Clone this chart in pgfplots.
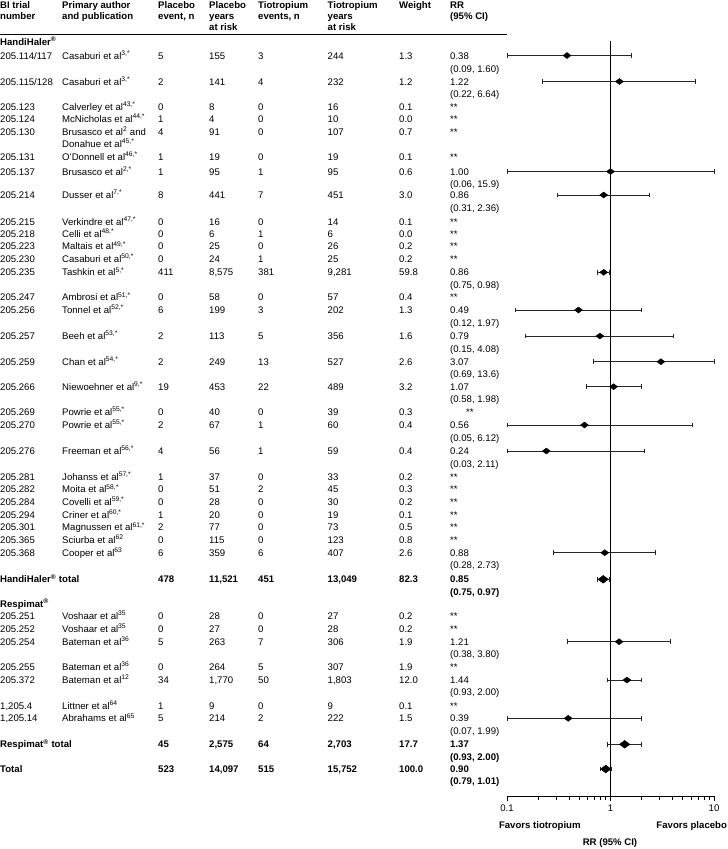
\documentclass[border=0pt]{standalone}
\usepackage{fontspec}
\setmainfont{Liberation Sans}
\usepackage{pgfplots}
\pgfplotsset{compat=1.18}
\newcommand{\fs}{\fontsize{9.6}{11}\selectfont}
\newcommand{\R}[9]{%
\node[T] at (0,#1) {#2};
\node[T] at (62,#1) {#3};
\node[T] at (158,#1) {#4};
\node[T] at (209,#1) {#5};
\node[T] at (258,#1) {#6};
\node[T] at (327.5,#1) {#7};
\node[T] at (399,#1) {#8};
\node[T] at (450,#1) {#9};}
\newcommand{\CI}[2]{\node[T] at (450,#1) {#2};}
\newcommand{\sps}[1]{\textsuperscript{#1}}
\newcommand{\ciline}[3]{\addplot[black!85, line width=0.8pt, mark=|, mark size=2.4pt, mark options={solid, line width=0.8pt}] coordinates {(#1,#3) (#2,#3)};}
\begin{document}
\begin{tikzpicture}
\begin{scope}[x=1pt,y=-1pt, T/.style={anchor=base west, inner sep=0pt, yshift=-3.5pt, font=\fs}]
\path[use as bounding box] (0,0) rectangle (728,849);
% header
\begin{scope}[T/.append style={font=\fs\bfseries}]
\node[T] at (0,5) {BI trial};
\node[T] at (0,16) {number};
\node[T] at (62,5) {Primary author};
\node[T] at (62,16) {and publication};
\node[T] at (158,5) {Placebo};
\node[T] at (158,16) {event, n};
\node[T] at (209,5) {Placebo};
\node[T] at (209,16) {years};
\node[T] at (209,27) {at risk};
\node[T] at (258,5) {Tiotropium};
\node[T] at (258,16) {events, n};
\node[T] at (327.5,5) {Tiotropium};
\node[T] at (327.5,16) {years};
\node[T] at (327.5,27) {at risk};
\node[T] at (399,5) {Weight};
\node[T] at (450,5) {RR};
\node[T] at (450,16) {(95\% CI)};
\node[T] at (0,42) {HandiHaler\sps{®}};
\node[T] at (0,604) {Respimat\sps{®}};
\end{scope}
\draw[line width=0.8pt] (0,34) -- (507,34);
\R{55.5}{205.114/117}{Casaburi et al\sps{3,*}}{5}{155}{3}{244}{1.3}{0.38}
\CI{68.5}{(0.09, 1.60)}
\R{81.5}{205.115/128}{Casaburi et al\sps{3,*}}{2}{141}{4}{232}{1.2}{1.22}
\CI{94}{(0.22, 6.64)}
\R{106.7}{205.123}{Calverley et al\sps{43,*}}{0}{8}{0}{16}{0.1}{**}
\R{118.7}{205.124}{McNicholas et al\sps{44,*}}{1}{4}{0}{10}{0.0}{**}
\R{131.5}{205.130}{Brusasco et al\sps{2} and}{4}{91}{0}{107}{0.7}{**}
\node[T] at (62,143.7) {Donahue et al\sps{45,*}};
\R{156.7}{205.131}{O'Donnell et al\sps{46,*}}{1}{19}{0}{19}{0.1}{**}
\R{171.5}{205.137}{Brusasco et al\sps{2,*}}{1}{95}{1}{95}{0.6}{1.00}
\CI{184}{(0.06, 15.9)}
\R{195}{205.214}{Dusser et al\sps{7,*}}{8}{441}{7}{451}{3.0}{0.86}
\CI{207.5}{(0.31, 2.36)}
\R{221.7}{205.215}{Verkindre et al\sps{47,*}}{0}{16}{0}{14}{0.1}{**}
\R{234}{205.218}{Celli et al\sps{48,*}}{0}{6}{1}{6}{0.0}{**}
\R{246.3}{205.223}{Maltais et al\sps{49,*}}{0}{25}{0}{26}{0.2}{**}
\R{259}{205.230}{Casaburi et al\sps{50,*}}{0}{24}{1}{25}{0.2}{**}
\R{272.3}{205.235}{Tashkin et al\sps{5,*}}{411}{8,575}{381}{9,281}{59.8}{0.86}
\CI{284.5}{(0.75, 0.98)}
\R{297.3}{205.247}{Ambrosi et al\sps{51,*}}{0}{58}{0}{57}{0.4}{**}
\R{310}{205.256}{Tonnel et al\sps{52,*}}{6}{199}{3}{202}{1.3}{0.49}
\CI{322.5}{(0.12, 1.97)}
\R{336}{205.257}{Beeh et al\sps{53,*}}{2}{113}{5}{356}{1.6}{0.79}
\CI{348.5}{(0.15, 4.08)}
\R{361.7}{205.259}{Chan et al\sps{54,*}}{2}{249}{13}{527}{2.6}{3.07}
\CI{373.7}{(0.69, 13.6)}
\R{386.7}{205.266}{Niewoehner et al\sps{9,*}}{19}{453}{22}{489}{3.2}{1.07}
\CI{399}{(0.58, 1.98)}
\R{412}{205.269}{Powrie et al\sps{55,*}}{0}{40}{0}{39}{0.3}{}
\node[T] at (466,412) {**};
\R{425}{205.270}{Powrie et al\sps{55,*}}{2}{67}{1}{60}{0.4}{0.56}
\CI{437.5}{(0.05, 6.12)}
\R{451}{205.276}{Freeman et al\sps{56,*}}{4}{56}{1}{59}{0.4}{0.24}
\CI{463.5}{(0.03, 2.11)}
\R{476.7}{205.281}{Johanss et al\sps{57,*}}{1}{37}{0}{33}{0.2}{**}
\R{489.3}{205.282}{Moita et al\sps{58,*}}{0}{51}{2}{45}{0.3}{**}
\R{501.7}{205.284}{Covelli et al\sps{59,*}}{0}{28}{0}{30}{0.2}{**}
\R{515}{205.294}{Criner et al\sps{60,*}}{1}{20}{0}{19}{0.1}{**}
\R{527.3}{205.301}{Magnussen et al\sps{61,*}}{2}{77}{0}{73}{0.5}{**}
\R{540}{205.365}{Sciurba et al\sps{62}}{0}{115}{0}{123}{0.8}{**}
\R{552.7}{205.368}{Cooper et al\sps{63}}{6}{359}{6}{407}{2.6}{0.88}
\CI{565}{(0.28, 2.73)}
\begin{scope}[T/.append style={font=\fs\bfseries}]
\R{579.3}{HandiHaler\sps{®} total}{}{478}{11,521}{451}{13,049}{82.3}{0.85}
\CI{591.7}{(0.75, 0.97)}
\end{scope}
\R{616}{205.251}{Voshaar et al\sps{35}}{0}{28}{0}{27}{0.2}{**}
\R{629}{205.252}{Voshaar et al\sps{35}}{0}{27}{0}{28}{0.2}{**}
\R{641.7}{205.254}{Bateman et al\sps{36}}{5}{263}{7}{306}{1.9}{1.21}
\CI{654}{(0.38, 3.80)}
\R{666.7}{205.255}{Bateman et al\sps{36}}{0}{264}{5}{307}{1.9}{**}
\R{680}{205.372}{Bateman et al\sps{12}}{34}{1,770}{50}{1,803}{12.0}{1.44}
\CI{692}{(0.93, 2.00)}
\R{705.7}{1,205.4}{Littner et al\sps{64}}{1}{9}{0}{9}{0.1}{**}
\R{718.3}{1,205.14}{Abrahams et al\sps{65}}{5}{214}{2}{222}{1.5}{0.39}
\CI{730.5}{(0.07, 1.99)}
\begin{scope}[T/.append style={font=\fs\bfseries}]
\R{744.3}{Respimat\sps{®} total}{}{45}{2,575}{64}{2,703}{17.7}{1.37}
\CI{756.5}{(0.93, 2.00)}
\R{769}{Total}{}{523}{14,097}{515}{15,752}{100.0}{0.90}
\CI{781}{(0.79, 1.01)}
\end{scope}
\node[font=\fs\bfseries, inner sep=0pt] at (539.8,826) {Favors tiotropium};
\node[font=\fs\bfseries, inner sep=0pt] at (691.7,826) {Favors placebo};
\node[font=\fs\bfseries, inner sep=0pt] at (610,843) {RR (95\% CI)};
\end{scope}
\begin{axis}[at={(507pt,-796pt)}, anchor=south west, scale only axis,
  width=207pt, height=755pt, xmode=log, xmin=0.1, xmax=10, ymin=41, ymax=796,
  y dir=reverse, axis x line=bottom, axis y line=none, clip=false,
  x axis line style={-, line width=0.8pt}, tick align=outside,
  xtick={0.1,1,10}, xticklabels={0.1,1,10},
  minor xtick={0.2,0.3,0.4,0.5,0.6,0.7,0.8,0.9,2,3,4,5,6,7,8,9},
  major tick length=5pt, minor tick length=4pt,
  every tick/.style={black, line width=0.8pt},
  xticklabel style={font=\fs, inner sep=0pt, anchor=north, yshift=-4pt}]
\addplot[black, line width=0.9pt] coordinates {(1,41) (1,796)};
\ciline{0.1}{1.60}{55.5}
\ciline{0.22}{6.64}{81.5}
\ciline{0.1}{10}{171.5}
\ciline{0.31}{2.36}{195}
\ciline{0.75}{0.98}{272.3}
\ciline{0.12}{1.97}{310}
\ciline{0.15}{4.08}{336}
\ciline{0.69}{10}{361.7}
\ciline{0.58}{1.98}{386.7}
\ciline{0.1}{6.12}{425}
\ciline{0.1}{2.11}{451}
\ciline{0.28}{2.73}{552.7}
\ciline{0.75}{0.97}{579.3}
\ciline{0.38}{3.80}{641.7}
\ciline{0.93}{2.00}{680}
\ciline{0.1}{1.99}{718.3}
\ciline{0.93}{2.00}{744.3}
\ciline{0.79}{1.01}{769}
\addplot[only marks, mark=diamond*, mark size=4pt, mark options={rotate=90, fill=black, draw=black}] coordinates {
(0.38,55.5) (1.22,81.5) (1.00,171.5) (0.86,195) (0.86,272.3) (0.49,310) (0.79,336) (3.07,361.7) (1.07,386.7) (0.56,425) (0.24,451) (0.88,552.7) (1.21,641.7) (1.44,680) (0.39,718.3)};
\addplot[only marks, mark=diamond*, mark size=5.2pt, mark options={rotate=90, fill=black, draw=black}] coordinates {
(0.85,579.3) (1.37,744.3) (0.90,769)};
\end{axis}
\end{tikzpicture}
\end{document}
